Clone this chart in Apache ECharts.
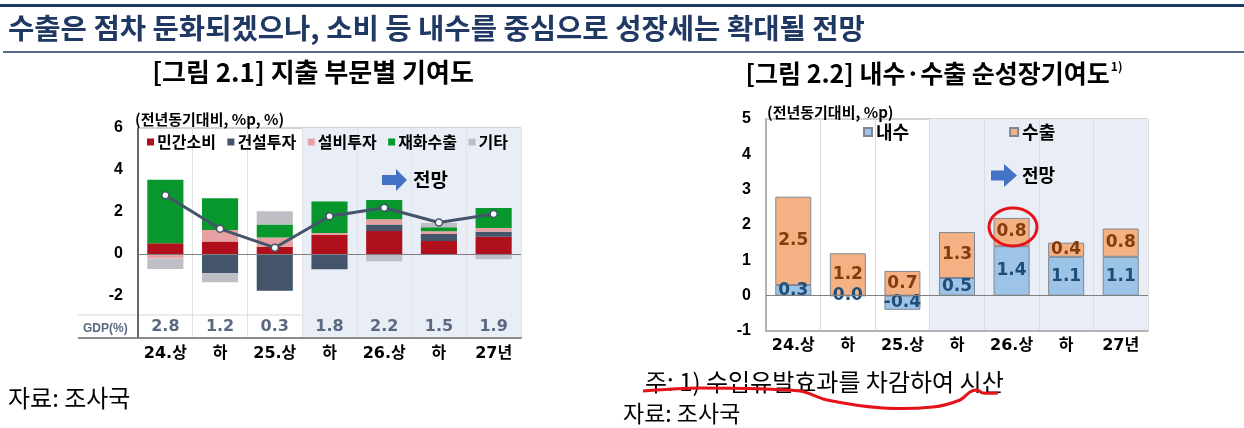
<!DOCTYPE html>
<html>
<head>
<meta charset="utf-8">
<script src="https://cdn.jsdelivr.net/npm/echarts@6/dist/echarts.min.js"></script>
<style>
html,body{margin:0;padding:0;background:#fff;}
#c{width:1244px;height:428px;}
</style>
</head>
<body>
<div id="c"></div>
<script>
// ---- data ----
const categories = ['24.상', '하', '25.상', '하', '26.상', '하', '27년'];
// [그림 2.1] 지출 부문별 기여도 (%p)
const privateConsumption = [0.51, 0.59, 0.35, 0.92, 1.10, 0.62, 0.82];
const construction = [0, -0.92, -1.75, -0.73, 0.31, 0.33, 0.24];
const equipment = [-0.22, 0.55, 0.43, 0.08, 0.24, 0.13, 0.18];
const goodsExports = [3.03, 1.51, 0.63, 1.50, 0.92, 0.19, 0.95];
const others = [-0.49, -0.43, 0.62, 0, -0.35, 0.21, -0.25];
const gdpGrowth = [2.8, 1.2, 0.3, 1.8, 2.2, 1.5, 1.9];
// [그림 2.2] 내수·수출 순성장기여도 (%p)
const domesticDemand = [0.3, 0.0, -0.4, 0.5, 1.4, 1.1, 1.1];
const netExports = [2.5, 1.2, 0.7, 1.3, 0.8, 0.4, 0.8];
// tick labels
const leftTicks = [-4, -2, 0, 2, 4, 6];
const rightTicks = [-1, 0, 1, 2, 3, 4, 5];

const KR = "'Noto Sans CJK KR'";
const NUMKR = "'DejaVu Sans','Noto Sans CJK KR'";
const AX = "'Liberation Sans','Noto Sans CJK KR'";
const shade = '#e9edf6';
const areaColors = ['rgba(255,255,255,0)', 'rgba(255,255,255,0)', 'rgba(255,255,255,0)', shade, shade, shade, shade];

const chart = echarts.init(document.getElementById('c'));

function barSeries(name, data, color, xi, yi, extra) {
  return Object.assign({
    name: name, type: 'bar', stack: 's' + xi, data: data,
    xAxisIndex: xi, yAxisIndex: yi, barWidth: '66%',
    itemStyle: { color: color }
  }, extra || {});
}

const zeroLine = {
  silent: true, symbol: 'none', label: { show: false },
  lineStyle: { color: '#808080', width: 1, type: 'solid' },
  data: [{ yAxis: 0 }]
};

const option = {
  animation: false,
  backgroundColor: '#fff',
  grid: [
    { left: 138, top: 128, right: 723, bottom: 90, show: true, borderColor: '#a6a6a6', borderWidth: 1, backgroundColor: 'transparent' },
    { left: 766, top: 119, right: 96, bottom: 97, show: true, borderColor: '#a6a6a6', borderWidth: 1, backgroundColor: 'transparent' }
  ],
  legend: [
    {
      data: ['민간소비', '건설투자', '설비투자', '재화수출', '기타'],
      left: 147, top: 134, padding: 0, itemGap: 11.5, itemWidth: 7, itemHeight: 7,
      icon: 'rect',
      textStyle: { fontFamily: KR, fontWeight: 'bold', fontSize: 16, color: '#000', padding: [0, 0, 0, -2] }
    },
    {
      data: ['내수', '수출'],
      left: 863, top: 123, padding: 0, itemGap: 100, itemWidth: 8, itemHeight: 8,
      icon: 'rect',
      textStyle: { fontFamily: KR, fontWeight: 'bold', fontSize: 18, color: '#000', padding: [0, 0, 0, -1] }
    }
  ],
  xAxis: [
    {
      type: 'category', gridIndex: 0, data: categories, position: 'bottom',
      axisLine: { onZero: false, lineStyle: { color: '#8c8c8c', width: 2 } },
      axisTick: { show: false },
      axisLabel: { interval: 0, margin: 8, color: '#000', fontWeight: 'bold', fontSize: 16, fontFamily: NUMKR },
      splitLine: { show: true, interval: 0, lineStyle: { color: '#e2e2e2', width: 1 } },
      splitArea: { show: true, interval: 0, areaStyle: { color: areaColors } }
    },
    {
      type: 'category', gridIndex: 0, data: categories, position: 'bottom',
      axisLine: { show: false, onZero: false },
      axisTick: { show: false },
      splitLine: { show: false },
      axisLabel: {
        interval: 0, inside: true, margin: 3, color: '#5b6882', fontWeight: 'bold', fontSize: 16, fontFamily: NUMKR,
        formatter: function (v, i) { return gdpGrowth[i].toFixed(1); }
      }
    },
    {
      type: 'category', gridIndex: 1, data: categories, position: 'bottom',
      axisLine: { onZero: false, lineStyle: { color: '#a6a6a6', width: 1.5 } },
      axisTick: { show: false },
      axisLabel: { interval: 0, margin: 7, color: '#000', fontWeight: 'bold', fontSize: 16, fontFamily: NUMKR },
      splitLine: { show: true, interval: 0, lineStyle: { color: '#dcdcdc', width: 1 } },
      splitArea: { show: true, interval: 0, areaStyle: { color: areaColors } }
    }
  ],
  yAxis: [
    {
      type: 'value', gridIndex: 0, min: leftTicks[0], max: leftTicks[leftTicks.length - 1], interval: 2,
      axisLine: { show: true, lineStyle: { color: '#404040', width: 1.5 } },
      axisTick: { show: false },
      splitLine: { show: false },
      axisLabel: {
        margin: 15, color: '#000', fontWeight: 'bold', fontSize: 16, fontFamily: AX,
        formatter: function (v) { return v === leftTicks[0] ? '' : String(v); }
      }
    },
    {
      type: 'value', gridIndex: 1, min: rightTicks[0], max: rightTicks[rightTicks.length - 1], interval: 1,
      axisLine: { show: true, lineStyle: { color: '#a6a6a6', width: 1.5 } },
      axisTick: { show: false },
      splitLine: { show: false },
      axisLabel: { margin: 15, color: '#000', fontWeight: 'bold', fontSize: 16, fontFamily: AX }
    }
  ],
  series: [
    barSeries('민간소비', privateConsumption, '#b0101b', 0, 0, { markLine: zeroLine }),
    barSeries('건설투자', construction, '#44546a', 0, 0),
    barSeries('설비투자', equipment, '#e6a1a3', 0, 0),
    barSeries('재화수출', goodsExports, '#07972c', 0, 0),
    barSeries('기타', others, '#bdbfc4', 0, 0),
    {
      name: 'GDP', type: 'line', data: gdpGrowth, xAxisIndex: 0, yAxisIndex: 0, z: 5,
      lineStyle: { color: '#44546a', width: 3 },
      symbol: 'circle', symbolSize: 7,
      itemStyle: { color: '#fff', borderColor: '#44546a', borderWidth: 1.5 }
    },
    barSeries('내수', domesticDemand, '#9dc3e6', 2, 1, {
      itemStyle: { color: '#9dc3e6', borderColor: '#7f8794', borderWidth: 1 },
      markLine: zeroLine,
      label: {
        show: true, position: 'inside', color: '#1f4e79', fontWeight: 'bold', fontSize: 17, fontFamily: NUMKR,
        formatter: function (p) { return p.value.toFixed(1); }
      }
    }),
    barSeries('수출', netExports, '#f4b183', 2, 1, {
      itemStyle: { color: '#f4b183', borderColor: '#7f8794', borderWidth: 1 },
      label: {
        show: true, position: 'inside', color: '#843c0c', fontWeight: 'bold', fontSize: 17, fontFamily: NUMKR,
        formatter: function (p) { return p.value.toFixed(1); }
      }
    })
  ],
  graphic: [
    // header
    { type: 'line', shape: { x1: 0, y1: 5.5, x2: 1244, y2: 5.5 }, style: { stroke: '#1f3864', lineWidth: 3 } },
    { type: 'text', x: 8, y: 28, style: { text: '수출은 점차 둔화되겠으나, 소비 등 내수를 중심으로 성장세는 확대될 전망', font: "bold 28.6px 'Noto Sans CJK KR'", fill: '#1f3864', verticalAlign: 'middle' } },
    { type: 'line', shape: { x1: 3, y1: 52, x2: 1244, y2: 52 }, style: { stroke: '#1f3864', lineWidth: 1.5 } },
    // chart titles
    { type: 'text', x: 313, y: 72, style: { text: '[그림 2.1] 지출 부문별 기여도', font: "bold 26px 'Noto Sans CJK KR'", fill: '#000', align: 'center', verticalAlign: 'middle' } },
    { type: 'text', x: 934, y: 73, style: {
        text: '{a|[그림 2.2] 내수·수출 순성장기여도}{s|1)}', align: 'center', verticalAlign: 'middle',
        rich: { a: { font: "bold 25px 'Noto Sans CJK KR'", fill: '#000' }, s: { font: "bold 12px 'Noto Sans CJK KR'", fill: '#000', verticalAlign: 'top', padding: [0, 0, 12, 1] } }
    } },
    // units
    { type: 'text', x: 135, y: 119, style: { text: '(전년동기대비, %p, %)', font: "bold 15px 'Noto Sans CJK KR'", fill: '#000', verticalAlign: 'middle' } },
    { type: 'text', x: 767, y: 112, style: { text: '(전년동기대비, %p)', font: "bold 15px 'Noto Sans CJK KR'", fill: '#000', verticalAlign: 'middle' } },
    // left GDP row
    { type: 'line', shape: { x1: 78, y1: 315, x2: 521, y2: 315 }, style: { stroke: '#d9d9d9', lineWidth: 1 } },
    { type: 'line', shape: { x1: 78, y1: 338, x2: 138, y2: 338 }, style: { stroke: '#8c8c8c', lineWidth: 2 } },
    { type: 'text', x: 83, y: 329, style: { text: 'GDP(%)', font: "bold 12px 'Liberation Sans'", fill: '#5b6882', verticalAlign: 'middle' } },
    // 전망 arrows
    { type: 'polygon', shape: { points: [[382, 175], [396, 175], [396, 169], [407, 180], [396, 191], [396, 185], [382, 185]] }, style: { fill: '#4472c4' }, z: 10 },
    { type: 'text', x: 413, y: 180, z: 10, style: { text: '전망', font: "bold 19px 'Noto Sans CJK KR'", fill: '#000', verticalAlign: 'middle' } },
    { type: 'polygon', shape: { points: [[991, 170.5], [1004, 170.5], [1004, 164], [1017, 175.5], [1004, 187], [1004, 180.5], [991, 180.5]] }, style: { fill: '#4472c4' }, z: 10 },
    { type: 'text', x: 1022, y: 175, z: 10, style: { text: '전망', font: "bold 18px 'Noto Sans CJK KR'", fill: '#000', verticalAlign: 'middle' } },
    // red annotations
    { type: 'ellipse', shape: { cx: 1013, cy: 227, rx: 24, ry: 19 }, style: { fill: 'none', stroke: '#e5121a', lineWidth: 3 }, z: 20 },
    // footnotes
    { type: 'text', x: 8, y: 398, style: { text: '자료: 조사국', font: "24px 'Noto Sans CJK KR'", fill: '#000', verticalAlign: 'middle' } },
    { type: 'text', x: 645, y: 382, style: { text: '주: 1) 수입유발효과를 차감하여 시산', font: "24px 'Noto Sans CJK KR'", fill: '#000', verticalAlign: 'middle' } },
    { type: 'text', x: 623, y: 413, style: { text: '자료: 조사국', font: "23px 'Noto Sans CJK KR'", fill: '#000', verticalAlign: 'middle' } },
    { type: 'polyline', z: 20, shape: { smooth: 0.3, points: [[643, 391], [700, 388], [800, 391], [827, 400], [883, 408], [933, 407], [960, 400], [970, 392], [977, 390], [983, 393], [998, 393]] }, style: { stroke: '#e5121a', lineWidth: 3, fill: 'none' } }
  ]
};
chart.setOption(option);
</script>
</body>
</html>
